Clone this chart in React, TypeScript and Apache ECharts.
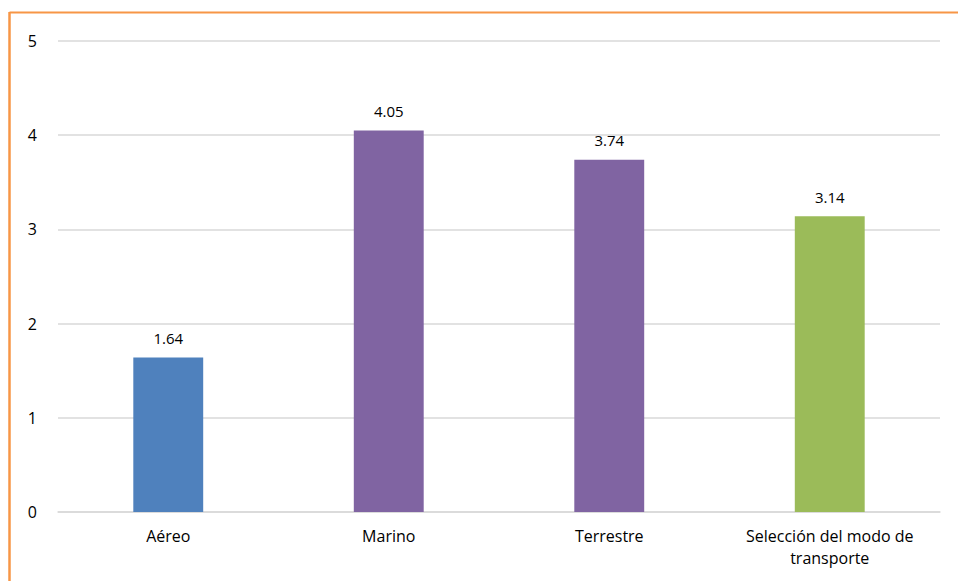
import React, { useEffect, useRef } from "react";
import * as echarts from "echarts";

const categories = ["Aéreo", "Marino", "Terrestre", "Selección del modo de transporte"];
const values = [1.64, 4.05, 3.74, 3.14];
const barColors = ["#4F81BD", "#8064A2", "#8064A2", "#9BBB59"];
const yTicks = [0, 1, 2, 3, 4, 5];

const FONT = "'Open Sans', sans-serif";

export default function App() {
  const ref = useRef<HTMLDivElement>(null);

  useEffect(() => {
    if (!ref.current) return;
    const chart = echarts.init(ref.current, null, { renderer: "svg" });
    chart.setOption({
      animation: false,
      backgroundColor: "#ffffff",
      grid: { left: 58, right: 18, top: 41, bottom: 69 },
      xAxis: {
        type: "category",
        data: categories,
        axisTick: { show: false },
        axisLine: { lineStyle: { color: "#d9d9d9", width: 1.5 } },
        axisLabel: {
          color: "#000",
          fontFamily: FONT,
          fontSize: 16,
          margin: 13,
          lineHeight: 22,
          interval: 0,
          formatter: (v: string) => v.replace("modo de ", "modo de\n"),
        },
      },
      yAxis: {
        type: "value",
        min: yTicks[0],
        max: yTicks[yTicks.length - 1],
        interval: 1,
        axisLine: { show: false },
        axisTick: { show: false },
        splitLine: { lineStyle: { color: "#d9d9d9", width: 1.5 } },
        axisLabel: { color: "#000", fontFamily: FONT, fontSize: 16, margin: 21 },
      },
      series: [
        {
          type: "bar",
          barWidth: "31.7%",
          data: values.map((v, i) => ({ value: v, itemStyle: { color: barColors[i] } })),
          label: {
            show: true,
            position: "top",
            distance: 12,
            color: "#000",
            fontFamily: FONT,
            fontSize: 15,
            formatter: (p: any) => p.value.toFixed(2),
          },
        },
      ],
      graphic: [
        {
          type: "line",
          shape: { x1: 9.5, y1: 12.5, x2: 958, y2: 12.5 },
          style: { stroke: "#F79646", lineWidth: 2 },
        },
        {
          type: "line",
          shape: { x1: 9.5, y1: 12, x2: 9.5, y2: 581 },
          style: { stroke: "#F79646", lineWidth: 2.5 },
        },
      ],
    });
    return () => chart.dispose();
  }, []);

  return (
    <div
      ref={ref}
      style={{ position: "absolute", left: 0, top: 0, width: 958, height: 581 }}
    />
  );
}
